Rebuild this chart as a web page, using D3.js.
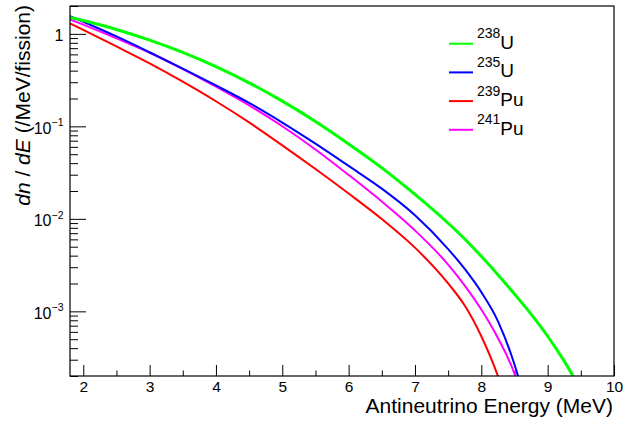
<!DOCTYPE html>
<html>
<head>
<meta charset="utf-8">
<script src="https://cdn.jsdelivr.net/npm/d3@7"></script>
<style>
  body { margin: 0; background: #fff; }
  svg { font-family: "Liberation Sans", Arial, Helvetica, sans-serif; }
</style>
</head>
<body>
<svg id="chart" width="623" height="421"></svg>
<script>
// antineutrino energy (MeV) at which the spectra were read
const energy = [1.8, 2, 2.5, 3, 3.5, 4, 4.5, 5, 5.5, 6, 6.5, 7, 7.5, 7.75, 8, 8.25, 8.5, 8.75, 9, 9.25, 9.5]

// dn/dE (/MeV/fission), null where the curve has left the plot
const u238 = [1.508, 1.392, 1.116, 0.857, 0.631, 0.4420, 0.2953, 0.1873, 0.1130, 0.06452, 0.03558, 0.01835,
    0.008962, 0.006063, 0.003932, 0.002487, 0.001538, 9.326e-4, 5.380e-4, 2.894e-4, 1.420e-4]
const u235 = [1.557, 1.351, 0.937, 0.6326, 0.4216, 0.2768, 0.1791, 0.1099, 0.06501, 0.03731, 0.02121, 0.01094,
    0.004716, 0.002873, 0.001613, 7.855e-4, 2.660e-4, 6.047e-5, null, null, null]
const pu239 = [1.2986, 1.1046, 0.7308, 0.4799, 0.3042, 0.1868, 0.1102, 0.06232, 0.03453, 0.01877, 0.00995, 0.004882,
    0.002002, 0.001155, 5.380e-4, 1.998e-4, 5.34e-5, null, null, null, null]
const pu241 = [1.435, 1.2575, 0.8941, 0.6248, 0.4164, 0.2687, 0.1687, 0.1003, 0.05627, 0.02983, 0.01538, 0.00749,
    0.003205, 0.001901, 0.001046, 5.144e-4, 2.126e-4, 5.208e-5, null, null, null]

// legend entries: mass number, element
const isoMass = ["238", "235", "239", "241"]
const isoName = ["U", "U", "Pu", "Pu"]

const xTicks = [2, 3, 4, 5, 6, 7, 8, 9, 10]
const xMinor = [2.5, 3.5, 4.5, 5.5, 6.5, 7.5, 8.5, 9.5]
const yTicks = [1e-3, 1e-2, 1e-1, 1]
const yExp = ["\u22123", "\u22122", "\u22121", ""]

const series = [
    { values: pu239, color: "#ff0000", width: 2 },
    { values: pu241, color: "#ff00ff", width: 2 },
    { values: u235, color: "#0000ff", width: 2 },
    { values: u238, color: "#00ff00", width: 3 }
]
const legendColors = ["#00ff00", "#0000ff", "#ff0000", "#ff00ff"]

const fLeft = 70, fRight = 614, fTop = 6, fBottom = 376

let x = d3.scaleLinear().domain([1.8, 10]).range([fLeft, fRight])
let y = d3.scaleLog().domain([2e-4, 2]).range([fBottom, fTop])

let svg = d3.select("#chart")

svg.append("clipPath")
    .attr("id", "frame")
    .append("rect")
    .attr("x", fLeft)
    .attr("y", fTop)
    .attr("width", fRight - fLeft)
    .attr("height", fBottom - fTop)

// y ticks, drawn inward from the left edge
let yMinor = []
for (let e = -4; e <= 0; e++) {
    for (let k = 2; k <= 9; k++) {
        let v = k * Math.pow(10, e)
        if (v >= 2e-4 && v <= 2) yMinor.push(v)
    }
}

let gy = svg.append("g").attr("transform", `translate(${fLeft},0)`)
gy.append("g")
    .call(d3.axisLeft(y).tickValues(yMinor).tickSizeInner(-8).tickSizeOuter(0).tickFormat(""))
gy.append("g")
    .call(d3.axisLeft(y).tickValues(yTicks).tickSizeInner(-16).tickSizeOuter(0).tickFormat(""))
gy.selectAll(".domain").remove()
gy.selectAll("line").attr("stroke", "#000").attr("stroke-width", 1)

let gx = svg.append("g").attr("transform", `translate(0,${fBottom})`)
gx.append("g")
    .call(d3.axisBottom(x).tickValues(xMinor).tickSizeInner(-5.5).tickSizeOuter(0).tickFormat(""))
gx.append("g")
    .call(d3.axisBottom(x).tickValues(xTicks).tickSizeInner(-11).tickSizeOuter(0).tickPadding(5))
gx.selectAll(".domain").remove()
gx.selectAll("line").attr("stroke", "#000").attr("stroke-width", 1)
gx.selectAll("text")
    .attr("font-size", "15.5px")
    .attr("font-family", "Liberation Sans, Arial, sans-serif")
    .attr("fill", "#000")

// y tick labels with exponents
let ylab = svg.append("g")
    .selectAll("text")
    .data(yTicks)
    .join("text")
    .attr("x", 63.5)
    .attr("y", d => y(d) + 7.4)
    .attr("text-anchor", "end")
    .attr("font-size", "16px")

ylab.each(function (d, i) {
    let t = d3.select(this)
    if (yExp[i] === "") {
        t.text("1")
    } else {
        t.append("tspan").text("10")
        t.append("tspan")
            .attr("font-size", "10.5px")
            .attr("dy", -7.4)
            .text(yExp[i])
    }
})

// spectra
let line = d3.line()
    .defined(d => d !== null)
    .x((d, i) => x(energy[i]))
    .y(d => y(d))
    .curve(d3.curveMonotoneX)

svg.append("g")
    .attr("clip-path", "url(#frame)")
    .selectAll("path")
    .data(series)
    .join("path")
    .attr("d", d => line(d.values))
    .attr("fill", "none")
    .attr("stroke", d => d.color)
    .attr("stroke-width", d => d.width)

// frame
svg.append("rect")
    .attr("x", fLeft)
    .attr("y", fTop)
    .attr("width", fRight - fLeft)
    .attr("height", fBottom - fTop)
    .attr("fill", "none")
    .attr("stroke", "#000")
    .attr("stroke-width", 1.2)

// legend
let legend = svg.append("g")
    .selectAll("g")
    .data(isoMass)
    .join("g")
    .attr("transform", (d, i) => `translate(0,${43.7 + i * 28.7})`)

legend.append("line")
    .attr("x1", 449)
    .attr("x2", 473)
    .attr("stroke", (d, i) => legendColors[i])
    .attr("stroke-width", 2)

let ltext = legend.append("text").attr("x", 477)
ltext.append("tspan")
    .attr("y", -5.5)
    .attr("font-size", "14px")
    .text(d => d)
ltext.append("tspan")
    .attr("y", 4.8)
    .attr("font-size", "19px")
    .text((d, i) => isoName[i])

// axis titles
svg.append("text")
    .attr("x", 613)
    .attr("y", 413)
    .attr("text-anchor", "end")
    .attr("font-size", "21px")
    .text("Antineutrino Energy (MeV)")

let ytitle = svg.append("text")
    .attr("transform", "translate(29.5,5) rotate(-90)")
    .attr("text-anchor", "end")
    .attr("font-size", "21px")
ytitle.append("tspan").attr("font-style", "italic").text("dn")
ytitle.append("tspan").text(" / ")
ytitle.append("tspan").attr("font-style", "italic").text("dE")
ytitle.append("tspan").text(" (/MeV/fission)")
</script>
</body>
</html>
